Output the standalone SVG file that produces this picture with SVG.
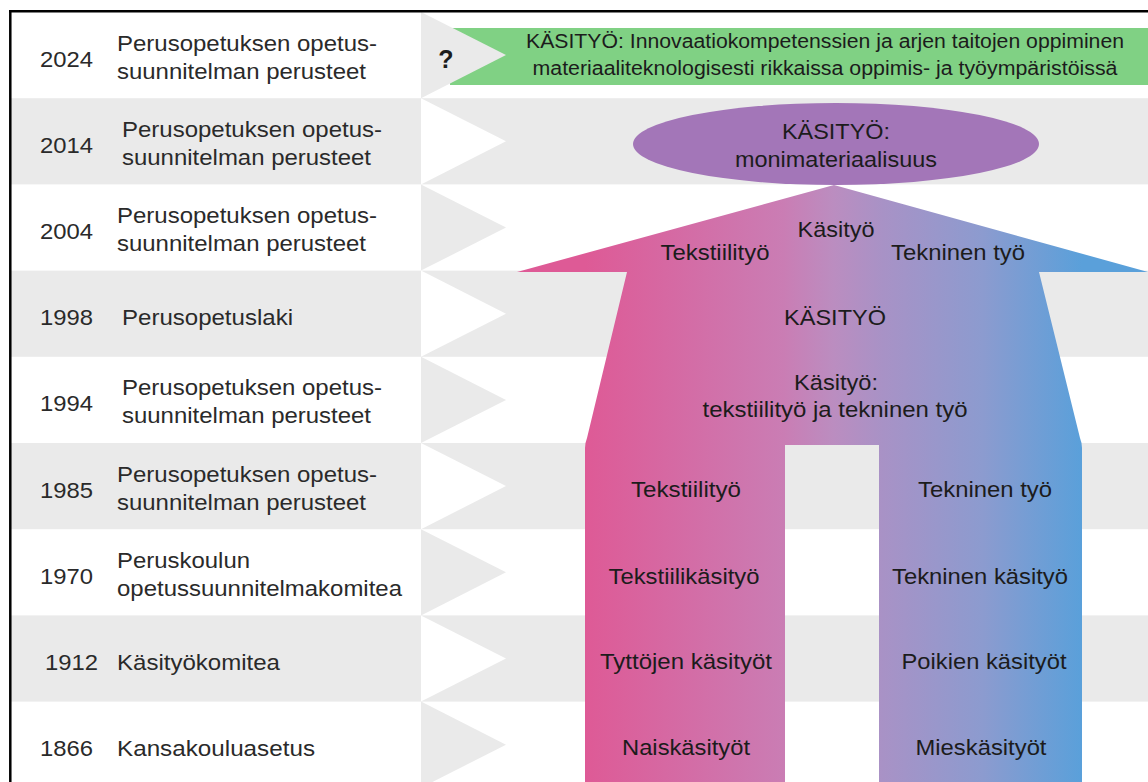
<svg xmlns="http://www.w3.org/2000/svg" width="1148" height="782" viewBox="0 0 1148 782">
<style>
text{font-family:"Liberation Sans",Arial,sans-serif}
.lt{font-size:22px;fill:#2a2a2a}
.rt{font-size:22px;fill:#1c1c1c;text-anchor:middle}
.bt{font-size:19.5px;fill:#1c1c1c;text-anchor:middle}
.gray{fill:#eaeaea}
.white{fill:#ffffff}
</style>
<defs>
<linearGradient id="arrowGrad" gradientUnits="userSpaceOnUse" x1="585" y1="0" x2="1082" y2="0">
<stop offset="0" stop-color="#de5a96"/>
<stop offset="0.4" stop-color="#ca7db4"/>
<stop offset="0.5" stop-color="#bb8dc0"/>
<stop offset="0.6" stop-color="#a892c6"/>
<stop offset="0.8" stop-color="#8c9bcf"/>
<stop offset="1" stop-color="#5aa0da"/>
</linearGradient>
</defs>
<rect x="0" y="0" width="1148" height="782" fill="#ffffff"/>
<g id="rows">
<rect class="gray" x="11" y="98.2" width="1137" height="86.2"/>
<rect class="gray" x="11" y="270.6" width="1137" height="86.2"/>
<rect class="gray" x="11" y="443" width="1137" height="86.2"/>
<rect class="gray" x="11" y="615.4" width="1137" height="86.2"/>
</g>
<g id="banner-2024">
<rect x="450" y="28" width="698" height="57" fill="#80d184"/>
</g>
<g id="chevrons">
<polygon class="gray" points="421,12 506,55.1 421,98.2"/>
<polygon class="white" points="421,98.2 506,141.3 421,184.4"/>
<polygon class="gray" points="421,184.4 506,227.5 421,270.6"/>
<polygon class="white" points="421,270.6 506,313.7 421,356.8"/>
<polygon class="gray" points="421,356.8 506,399.9 421,443"/>
<polygon class="white" points="421,443 506,486.1 421,529.2"/>
<polygon class="gray" points="421,529.2 506,572.3 421,615.4"/>
<polygon class="white" points="421,615.4 506,658.5 421,701.6"/>
<polygon class="gray" points="421,701.6 506,744.7 421,787.8"/>
</g>
<g id="arrow">
<path d="M834,185 L1148,272 L1039,272 L1080,438 Q1082,443 1082,448 L1082,782 L879,782 L879,445 L785,445 L785,782 L585,782 L585,448 Q585,443 587,438 L627,272 L517,272 Z" fill="url(#arrowGrad)"/>
</g>
<g id="ellipse-2014">
<ellipse cx="836" cy="144" rx="203" ry="41" fill="#a376b8"/>
<text class="rt" x="836" y="139" textLength="108" lengthAdjust="spacingAndGlyphs">KÄSITYÖ:</text>
<text class="rt" x="836" y="167" textLength="202" lengthAdjust="spacingAndGlyphs">monimateriaalisuus</text>
</g>
<g id="banner-text">
<text x="446" y="68" style="font-size:25px;font-weight:bold;fill:#1c1c1c;text-anchor:middle">?</text>
<text class="bt" x="825" y="48" textLength="598" lengthAdjust="spacingAndGlyphs">KÄSITYÖ: Innovaatiokompetenssien ja arjen taitojen oppiminen</text>
<text class="bt" x="825" y="75" textLength="585" lengthAdjust="spacingAndGlyphs">materiaaliteknologisesti rikkaissa oppimis- ja työympäristöissä</text>
</g>
<g id="arrow-labels">
<text class="rt" x="836" y="237" textLength="77" lengthAdjust="spacingAndGlyphs">Käsityö</text>
<text class="rt" x="715" y="260" textLength="109" lengthAdjust="spacingAndGlyphs">Tekstiilityö</text>
<text class="rt" x="958" y="260" textLength="134" lengthAdjust="spacingAndGlyphs">Tekninen työ</text>
<text class="rt" x="835" y="325" textLength="102" lengthAdjust="spacingAndGlyphs">KÄSITYÖ</text>
<text class="rt" x="836" y="390" textLength="84" lengthAdjust="spacingAndGlyphs">Käsityö:</text>
<text class="rt" x="835" y="417" textLength="265" lengthAdjust="spacingAndGlyphs">tekstiilityö ja tekninen työ</text>
<text class="rt" x="686" y="497" textLength="110" lengthAdjust="spacingAndGlyphs">Tekstiilityö</text>
<text class="rt" x="985" y="497" textLength="134" lengthAdjust="spacingAndGlyphs">Tekninen työ</text>
<text class="rt" x="684" y="584" textLength="151" lengthAdjust="spacingAndGlyphs">Tekstiilikäsityö</text>
<text class="rt" x="980" y="584" textLength="176" lengthAdjust="spacingAndGlyphs">Tekninen käsityö</text>
<text class="rt" x="686" y="669" textLength="172" lengthAdjust="spacingAndGlyphs">Tyttöjen käsityöt</text>
<text class="rt" x="984" y="669" textLength="165" lengthAdjust="spacingAndGlyphs">Poikien käsityöt</text>
<text class="rt" x="686" y="755" textLength="128" lengthAdjust="spacingAndGlyphs">Naiskäsityöt</text>
<text class="rt" x="981" y="755" textLength="131" lengthAdjust="spacingAndGlyphs">Mieskäsityöt</text>
</g>
<g id="row-2024">
<text class="lt" x="40" y="66.5" textLength="53" lengthAdjust="spacingAndGlyphs">2024</text>
<text class="lt" x="117" y="50.5" textLength="260" lengthAdjust="spacingAndGlyphs">Perusopetuksen opetus-</text>
<text class="lt" x="117" y="78.5" textLength="249" lengthAdjust="spacingAndGlyphs">suunnitelman perusteet</text>
</g>
<g id="row-2014">
<text class="lt" x="40" y="152.7" textLength="53" lengthAdjust="spacingAndGlyphs">2014</text>
<text class="lt" x="122" y="136.7" textLength="260" lengthAdjust="spacingAndGlyphs">Perusopetuksen opetus-</text>
<text class="lt" x="122" y="164.7" textLength="249" lengthAdjust="spacingAndGlyphs">suunnitelman perusteet</text>
</g>
<g id="row-2004">
<text class="lt" x="40" y="238.9" textLength="53" lengthAdjust="spacingAndGlyphs">2004</text>
<text class="lt" x="117" y="222.9" textLength="260" lengthAdjust="spacingAndGlyphs">Perusopetuksen opetus-</text>
<text class="lt" x="117" y="250.9" textLength="249" lengthAdjust="spacingAndGlyphs">suunnitelman perusteet</text>
</g>
<g id="row-1998">
<text class="lt" x="40" y="325.1" textLength="53" lengthAdjust="spacingAndGlyphs">1998</text>
<text class="lt" x="122" y="325.1" textLength="171" lengthAdjust="spacingAndGlyphs">Perusopetuslaki</text>
</g>
<g id="row-1994">
<text class="lt" x="40" y="411.3" textLength="53" lengthAdjust="spacingAndGlyphs">1994</text>
<text class="lt" x="122" y="395.3" textLength="260" lengthAdjust="spacingAndGlyphs">Perusopetuksen opetus-</text>
<text class="lt" x="122" y="423.3" textLength="249" lengthAdjust="spacingAndGlyphs">suunnitelman perusteet</text>
</g>
<g id="row-1985">
<text class="lt" x="40" y="497.5" textLength="53" lengthAdjust="spacingAndGlyphs">1985</text>
<text class="lt" x="117" y="481.5" textLength="260" lengthAdjust="spacingAndGlyphs">Perusopetuksen opetus-</text>
<text class="lt" x="117" y="509.5" textLength="249" lengthAdjust="spacingAndGlyphs">suunnitelman perusteet</text>
</g>
<g id="row-1970">
<text class="lt" x="40" y="583.7" textLength="53" lengthAdjust="spacingAndGlyphs">1970</text>
<text class="lt" x="117" y="567.7" textLength="133" lengthAdjust="spacingAndGlyphs">Peruskoulun</text>
<text class="lt" x="117" y="595.7" textLength="285" lengthAdjust="spacingAndGlyphs">opetussuunnitelmakomitea</text>
</g>
<g id="row-1912">
<text class="lt" x="45" y="669.9" textLength="53" lengthAdjust="spacingAndGlyphs">1912</text>
<text class="lt" x="117" y="669.9" textLength="163" lengthAdjust="spacingAndGlyphs">Käsityökomitea</text>
</g>
<g id="row-1866">
<text class="lt" x="40" y="756.1" textLength="53" lengthAdjust="spacingAndGlyphs">1866</text>
<text class="lt" x="117" y="756.1" textLength="198" lengthAdjust="spacingAndGlyphs">Kansakouluasetus</text>
</g>
<g id="connectors"></g>
<g id="frame" stroke="#000000" stroke-width="2.5" fill="none">
<line x1="9" y1="11.3" x2="1148" y2="11.3"/>
<line x1="10.3" y1="10" x2="10.3" y2="782"/>
</g>
</svg>
